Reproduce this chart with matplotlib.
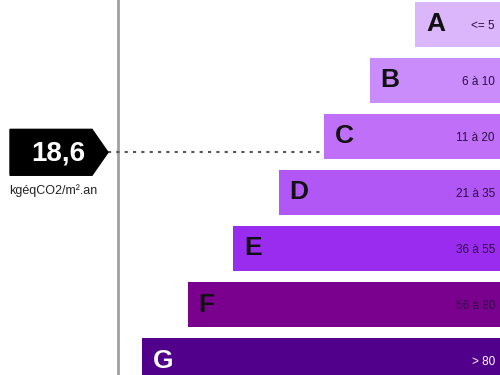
import matplotlib
matplotlib.use("Agg")
from matplotlib import pyplot as plt
from matplotlib.patches import Polygon

# GES label data
classes = ["A", "B", "C", "D", "E", "F", "G"]
ranges = ["<= 5", "6 à 10", "11 à 20", "21 à 35", "36 à 55", "56 à 80", "> 80"]
class_lo = [0, 6, 11, 21, 36, 56, 81]
class_hi = [5, 10, 20, 35, 55, 80, 100]
colors = ["#dcb6fa", "#c98cfa", "#bf6ff8", "#b157f6", "#9a2cf0", "#7a008e", "#50008a"]
letter_colors = ["#111111"] * 6 + ["white"]
value = 18.6
value_label = "18,6"
unit = "kgéqCO2/m².an"

plt.rcParams['font.family'] = ['Liberation Sans', 'DejaVu Sans']

fig = plt.figure(figsize=(5, 3.75), dpi=100)
ax = fig.add_axes([0, 0, 1, 1])
ax.set_xlim(0, 500)
ax.set_ylim(350.5 / 56, -24.5 / 56)
ax.axis("off")

BAR_H = 0.82
widths = [85 + 45.5 * i for i in range(len(classes))]
lefts = [500 - w for w in widths]
ax.barh(range(len(classes)), [w + 20 for w in widths], left=lefts, height=BAR_H,
        color=colors, edgecolor="none")

for i, c in enumerate(classes):
    ax.text(lefts[i] + 11, i, c, fontsize=19, fontweight="bold", color=letter_colors[i],
            ha="left", va="center")
    ax.text(495, i + 0.03, ranges[i], fontsize=8.5, color=letter_colors[i] if i == 6 else "#2a1040",
            ha="right", va="center")

# vertical separator
ax.axvline(118, color="#a0a0a0", lw=2)

# marker for the value
k = next(i for i in range(len(classes)) if value <= class_hi[i])
frac = (value - class_lo[k]) / (class_hi[k] - class_lo[k])
ym = k - BAR_H / 2 + frac * BAR_H
h = BAR_H / 2
ax.add_patch(Polygon([(10, ym - h), (92, ym - h), (108, ym), (92, ym + h), (10, ym + h)],
                     closed=True, color="black", zorder=5))
ax.text(58, ym + 0.02, value_label, fontsize=20, fontweight="bold", color="white",
        ha="center", va="center", zorder=6)
ax.text(53, ym + 0.68, unit, fontsize=9, color="#222222", ha="center", va="center")
ax.plot([108, lefts[k]], [ym, ym], linestyle=(0, (1.5, 2.5)), color="#555555", lw=1.5)

fig.savefig("out.png", dpi=100)
